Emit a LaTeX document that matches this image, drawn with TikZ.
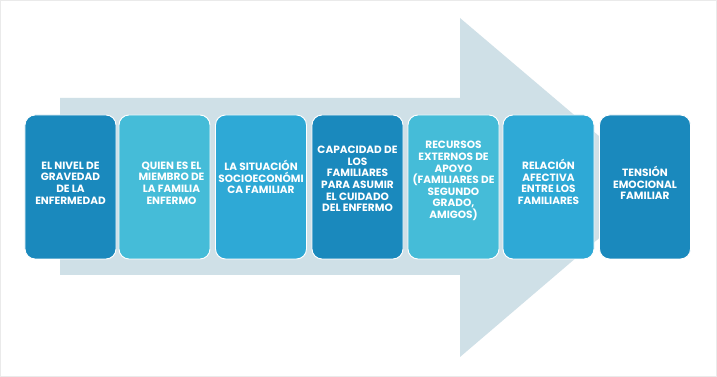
\documentclass[tikz,border=0pt]{standalone}
\usepackage{fontspec}
\setmainfont{Poppins}
\setlength{\lineskiplimit}{-10pt}
\definecolor{azuloscuro}{HTML}{1A89BD}
\definecolor{azulmedio}{HTML}{2EA9D6}
\definecolor{azulclaro}{HTML}{45BCD8}
\definecolor{flecha}{HTML}{CFE0E7}
\definecolor{marco}{HTML}{EAEAEA}

\begin{document}
\begin{tikzpicture}[x=0.03cm, y=-0.03cm,
    caja/.style={draw=white, line width=0.8pt, rounded corners=0.3cm,
        minimum width=2.73cm, minimum height=4.32cm},
    texto/.style={text=white, align=center, inner sep=0pt,
        font=\fontsize{9}{9.9}\selectfont\bfseries}]
    % fondo y marco
    \fill[white] (0,0) rectangle (717,377);
    \draw[marco, line width=0.5pt] (0.5,0.5) rectangle (716.5,376.5);

    % flecha de fondo
    \fill[flecha] (60,98) -- (460,98) -- (460,18) -- (659,187)
        -- (460,357) -- (460,275) -- (60,275) -- cycle;

    % cajas con sus textos
    \foreach \i/\x/\col/\tx/\ty/\txt in {
        1/70.5/azuloscuro/70.5/183/{EL NIVEL DE\\GRAVEDAD\\DE LA\\ENFERMEDAD},
        2/164.5/azulclaro/171.5/183/{QUIEN ES EL\\MIEMBRO DE\\LA FAMILIA\\ENFERMO},
        3/261/azulmedio/261/177/{LA SITUACIÓN\\SOCIOECONÓMI\\CA FAMILIAR},
        4/357.5/azuloscuro/357.5/179/{CAPACIDAD DE\\LOS\\FAMILIARES\\PARA ASUMIR\\EL CUIDADO\\DEL ENFERMO},
        5/453.5/azulclaro/453.5/181/{RECURSOS\\EXTERNOS DE\\APOYO\\(FAMILIARES DE\\SEGUNDO\\GRADO,\\AMIGOS)},
        6/548.5/azulmedio/548.5/182/{RELACIÓN\\AFECTIVA\\ENTRE LOS\\FAMILIARES},
        7/645/azuloscuro/645/183/{TENSIÓN\\EMOCIONAL\\FAMILIAR}}
    {
        \node[caja, fill=\col] (b\i) at (\x,187) {};
        \node[texto] (t\i) at (\tx,\ty) {\txt};
    }
\end{tikzpicture}
\end{document}
